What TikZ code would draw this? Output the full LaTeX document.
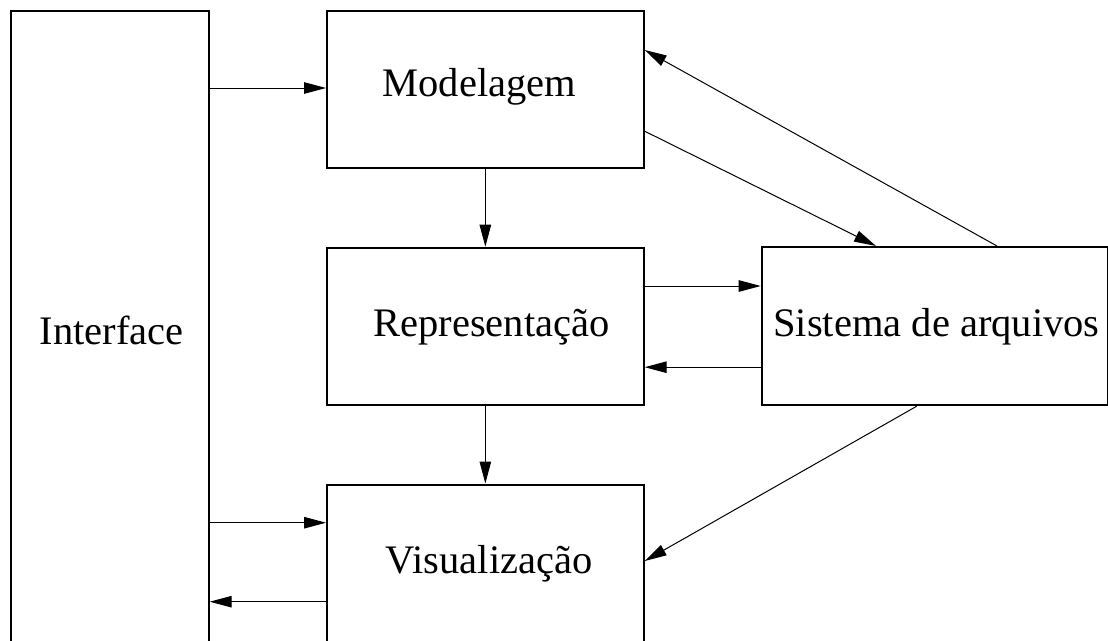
\documentclass[tikz,border=0pt]{standalone}
\usepackage{fontspec}
\setmainfont{Liberation Serif}
\usetikzlibrary{arrows.meta,calc}
\begin{document}
\begin{tikzpicture}[x=1pt,y=-1pt,
  box/.style={draw=black,line width=2.2pt,inner sep=0pt,anchor=north west,fill=none},
  lbl/.style={inner sep=0pt,anchor=base,font=\fontsize{40.5}{48}\selectfont},
  arr/.style={draw=black,line width=1pt,-{Triangle[length=22pt,width=11.5pt]}}]
\useasboundingbox (0,0) rectangle (1108,640);
\clip (0,0) rectangle (1108,640);
% boxes
\node[box,minimum width=197.5pt,minimum height=650pt] (int) at (10,9.5) {};
\node[box,minimum width=316.5pt,minimum height=157pt] (mod) at (326,10) {};
\node[box,minimum width=316.5pt,minimum height=157.3pt] (rep) at (326,246.7) {};
\node[box,minimum width=316.5pt,minimum height=177pt] (vis) at (326,483.5) {};
\node[box,minimum width=345.8pt,minimum height=158pt] (sis) at (760.7,246) {};
% labels
\node[lbl] (tint) at (111.7,344) {Interface};
\node[lbl] (tmod) at (479.3,96.7) {Modelagem};
\node[lbl] (trep) at (491.5,336.7) {Representação};
\node[lbl] (tvis) at (489.2,573) {Visualização};
\node[lbl] (tsis) at (936.5,336.7) {Sistema de arquivos};
% helper coordinates on borders
\coordinate (modA) at ([yshift=-78pt]mod.north east);
\coordinate (modB) at ([yshift=-40pt]mod.north east);
\coordinate (modC) at ([yshift=38pt]mod.south east);
\coordinate (repA) at ([yshift=-39.3pt]rep.north east);
\coordinate (repB) at ([yshift=39pt]rep.south east);
\coordinate (visA) at ([yshift=-39.2pt]vis.north west);
\coordinate (visB) at ([yshift=-118.2pt]vis.north west);
\coordinate (visC) at ([yshift=-77.5pt]vis.north east);
\coordinate (sisA) at ([xshift=115.3pt]sis.north west);
\coordinate (sisB) at ([xshift=236.3pt]sis.north west);
\coordinate (sisC) at ([xshift=156pt]sis.south west);
% connectors
\draw[arr] (int.east |- modA) -- (mod.west |- modA);
\draw[arr] (mod.south) -- (rep.north);
\draw[arr] (rep.south) -- (vis.north);
\draw[arr] (int.east |- visA) -- (visA);
\draw[arr] (visB) -- (int.east |- visB);
\draw[arr] (repA) -- (sis.west |- repA);
\draw[arr] (sis.west |- repB) -- (repB);
\draw[arr] (modC) -- (sisA);
\draw[arr] (sisB) -- (modB);
\draw[arr] (sisC) -- (visC);
\end{tikzpicture}
\end{document}
